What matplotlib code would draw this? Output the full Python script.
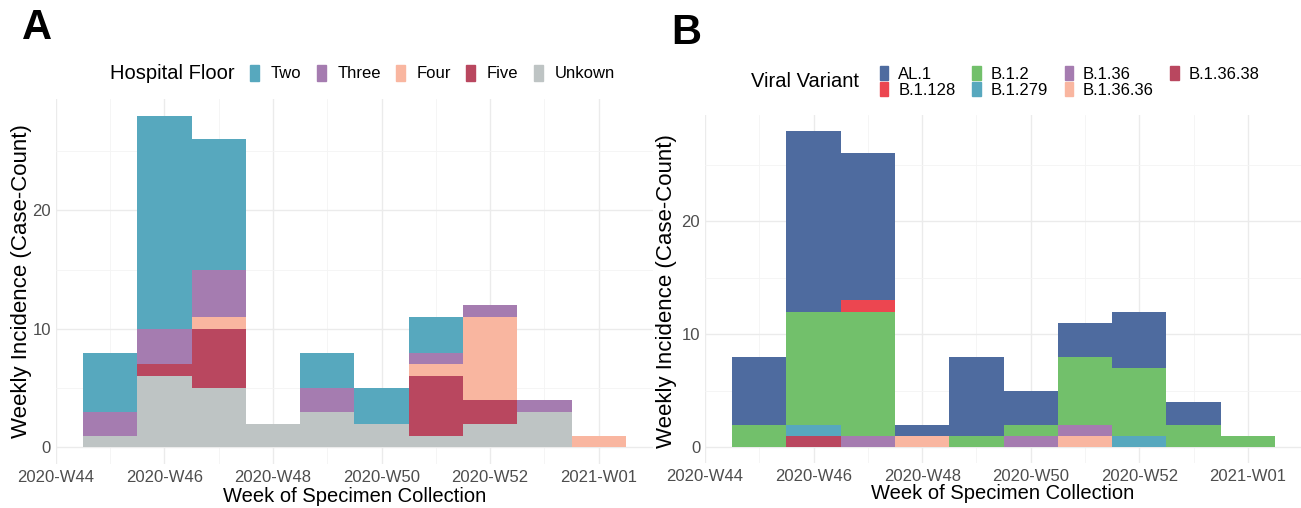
import numpy as np
import matplotlib
matplotlib.use("Agg")
import matplotlib.pyplot as plt
from matplotlib.patches import Patch

plt.rcParams['font.family'] = ['Liberation Sans', 'DejaVu Sans']

weeks = ['2020-W44', '2020-W45', '2020-W46', '2020-W47', '2020-W48', '2020-W49',
         '2020-W50', '2020-W51', '2020-W52', '2020-W53', '2021-W01']
tick_weeks = ['2020-W44', '2020-W46', '2020-W48', '2020-W50', '2020-W52', '2021-W01']

# panel A - hospital floor (stack order bottom -> top)
floors = ['Unkown', 'Five', 'Four', 'Three', 'Two']
unknown = [0, 1, 6, 5, 2, 3, 2, 1, 2, 3, 0]
five = [0, 0, 1, 5, 0, 0, 0, 5, 2, 0, 0]
four = [0, 0, 0, 1, 0, 0, 0, 1, 7, 0, 1]
three = [0, 2, 3, 4, 0, 2, 0, 1, 1, 1, 0]
two = [0, 5, 18, 11, 0, 3, 3, 3, 0, 0, 0]
floor_counts = [unknown, five, four, three, two]
floor_colors = ['#bec4c4', '#b9475f', '#f9b6a0', '#a57cb0', '#57a8be']

# panel B - viral variant (stack order bottom -> top)
variants = ['B.1.36.38', 'B.1.36.36', 'B.1.36', 'B.1.279', 'B.1.2', 'B.1.128', 'AL.1']
b13638 = [0, 0, 1, 0, 0, 0, 0, 0, 0, 0, 0]
b13636 = [0, 0, 0, 0, 1, 0, 0, 1, 0, 0, 0]
b136 = [0, 0, 0, 1, 0, 0, 1, 1, 0, 0, 0]
b1279 = [0, 0, 1, 0, 0, 0, 0, 0, 1, 0, 0]
b12 = [0, 2, 10, 11, 0, 1, 1, 6, 6, 2, 1]
b1128 = [0, 0, 0, 1, 0, 0, 0, 0, 0, 0, 0]
al1 = [0, 6, 16, 13, 1, 7, 3, 3, 5, 2, 0]
variant_counts = [b13638, b13636, b136, b1279, b12, b1128, al1]
variant_colors = ['#b9475f', '#f9b6a0', '#a57cb0', '#57a8be', '#72c06b', '#ec4650', '#4e6b9f']

fig = plt.figure(figsize=(13.01, 5.08), dpi=100)
axA = fig.add_axes([0.0430, 0.0866, 0.4589, 0.7185])
axB = fig.add_axes([0.5419, 0.0886, 0.4581, 0.685])

x = np.arange(len(weeks))


def draw(ax, counts, colors, xmax, ylab_x, ylab_y):
    bottom = np.zeros(len(weeks))
    for c, col in zip(counts, colors):
        c = np.array(c)
        ax.bar(x, c, width=1.0, bottom=bottom, color=col, linewidth=0, zorder=2)
        bottom += c
    ax.set_xlim(0, xmax)
    ax.set_ylim(-1.4, 29.4)
    ax.set_xticks(x[::2])
    ax.set_xticklabels(tick_weeks)
    ax.set_xticks(x[1::2], minor=True)
    ax.set_yticks([0, 10, 20])
    ax.set_yticks([5, 15, 25], minor=True)
    ax.grid(which='major', color='#ebebeb', linewidth=1.0, zorder=0)
    ax.grid(which='minor', color='#f4f4f4', linewidth=0.6, zorder=0)
    ax.set_axisbelow(True)
    for s in ax.spines.values():
        s.set_visible(False)
    ax.tick_params(which='both', length=0)
    ax.tick_params(axis='x', labelsize=12, colors='#4d4d4d', pad=4)
    ax.tick_params(axis='y', labelsize=12, colors='#4d4d4d', pad=3.5)
    ax.set_xlabel('Week of Specimen Collection', fontsize=14.5, va='center')
    ax.xaxis.set_label_coords(0.5, -0.088)
    ax.set_ylabel('Weekly Incidence (Case-Count)', fontsize=16, va='center')
    ax.yaxis.set_label_coords(ylab_x, ylab_y)


draw(axA, floor_counts, floor_colors, 11.0, -0.057, 0.5)
draw(axB, variant_counts, variant_colors, 10.98, -0.065, 0.494)

fig.text(0.017, 0.944, 'A', fontsize=30, fontweight='bold', va='center')
fig.text(0.516, 0.936, 'B', fontsize=30, fontweight='bold', va='center')

# legend A
fig.text(0.0846, 0.856, 'Hospital Floor', fontsize=14.5, va='center')
hA = [Patch(color=c, label=l) for l, c in zip(floors[::-1], floor_colors[::-1])]
fig.legend(handles=hA, loc='center left', bbox_to_anchor=(0.1922, 0.856), ncol=5,
           frameon=False, fontsize=12, handlelength=0.55, handleheight=1.1,
           handletextpad=0.7, columnspacing=0.9, borderaxespad=0, borderpad=0)

# legend B
fig.text(0.5772, 0.839, 'Viral Variant', fontsize=14.5, va='center')
order = ['AL.1', 'B.1.128', 'B.1.2', 'B.1.279', 'B.1.36', 'B.1.36.36', 'B.1.36.38']
cmap = dict(zip(variants, variant_colors))
hB = [Patch(color=cmap[l], label=l) for l in order]
fig.legend(handles=hB, loc='center left', bbox_to_anchor=(0.6764, 0.839), ncol=4,
           frameon=False, fontsize=12, handlelength=0.5, handleheight=0.95,
           handletextpad=0.6, columnspacing=1.0, labelspacing=0.0,
           borderaxespad=0, borderpad=0)

fig.savefig('out.png', dpi=100)
